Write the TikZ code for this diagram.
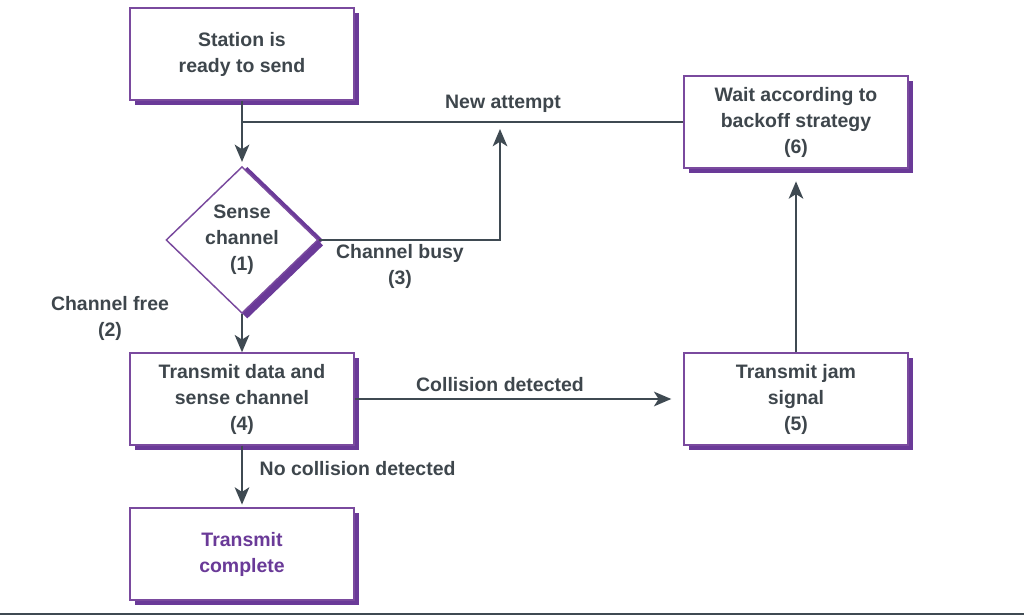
\documentclass[tikz,border=0pt]{standalone}
\usepackage{fontspec}
\setmainfont{Liberation Sans}
\usetikzlibrary{arrows.meta,shapes.geometric,shadows,calc}

\definecolor{boxline}{HTML}{7A4A9E}
\definecolor{boxshadow}{HTML}{6A3A98}
\definecolor{wire}{HTML}{3F4A52}
\definecolor{ink}{HTML}{3E464C}

\tikzset{
  stepbox/.style={draw=boxline, line width=1.1pt, fill=white, text=ink,
    minimum width=168pt, minimum height=69pt, align=center,
    font=\fontsize{14.6}{19.5}\selectfont\bfseries,
    drop shadow={shadow xshift=4pt, shadow yshift=-4pt, fill=boxshadow, opacity=1}},
  testbox/.style={stepbox, diamond, aspect=1, inner sep=0pt,
    minimum width=114pt, minimum height=110pt,
    drop shadow={shadow xshift=4pt, shadow yshift=0pt, fill=boxshadow, opacity=1}},
  lbl/.style={text=ink, align=center, font=\fontsize{14.6}{19.5}\selectfont\bfseries},
  flow/.style={draw=wire, line width=1.3pt, -{Stealth[length=13pt,width=11pt,inset=3.5pt]}},
  plain/.style={draw=wire, line width=1.3pt}
}

\begin{document}
\begin{tikzpicture}[x=0.75pt,y=-0.75pt]

    \useasboundingbox (0,0) rectangle (1024,616);

    % boxes
    \node[stepbox] at (242,54) (ready) {Station is\\ready to send};
    \node[testbox] at (242,240) (sense) {Sense\\channel\\(1)};
    \node[stepbox] at (242,399) (txdata) {Transmit data and\\sense channel\\(4)};
    \node[stepbox, text=boxshadow] at (242,554) (done) {Transmit\\complete};
    \node[stepbox] at (796,122) (wait) {Wait according to\\backoff strategy\\(6)};
    \node[stepbox] at (796,399) (jam) {Transmit jam\\signal\\(5)};

    \coordinate (retry) at (500,129);

    % connectors
    \draw[plain] (wait.west) -- (wait.west -| ready.south);
    \draw[flow, shorten >=3pt] (ready.south) -- (sense.north);
    \draw[flow] (sense.east) -| (retry);
    \draw[flow] (sense.south) -- (txdata.north);
    \draw[flow, shorten >=9pt] (txdata.east) -- (jam.west);
    \draw[flow, shorten >=2pt] (txdata.south) -- (done.north);
    \draw[flow, shorten >=9.5pt] (jam.north) -- (wait.south);

    % labels
    \node[lbl] at (503,104) (newtry) {New attempt};
    \node[lbl] at (400,266) (busy) {Channel busy\\(3)};
    \node[lbl] at (110,318) (free) {Channel free\\(2)};
    \node[lbl] at (500,385) (coll) {Collision detected};
    \node[lbl, anchor=west] at (255,469) (nocoll) {No collision detected};

    \draw[wire, line width=1.6pt] (0,614) -- (1024,614);

\end{tikzpicture}
\end{document}
